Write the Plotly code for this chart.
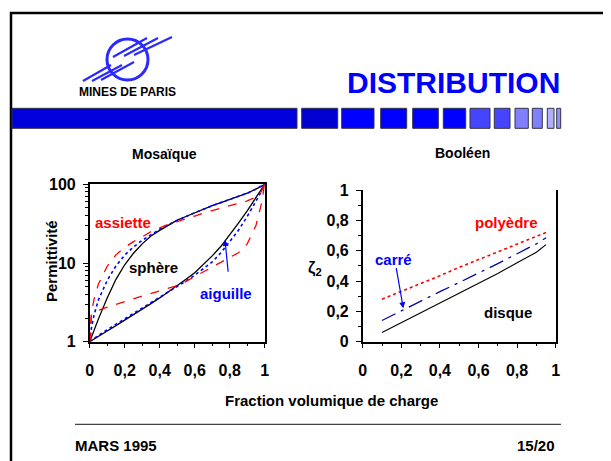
import plotly.graph_objects as go

W, H = 611, 461
# the page body adds an 8px offset; positions below are given in window pixels
OX, OY = 8, 8
FONT = "Liberation Sans, Arial, Helvetica, sans-serif"

# ---------------- data: Mosaïque (permittivity, log scale) ----------------
frac_mosaic = [0, 0.01, 0.025, 0.05, 0.1, 0.15, 0.2, 0.25, 0.3, 0.35, 0.4, 0.45,
               0.5, 0.55, 0.6, 0.65, 0.7, 0.75, 0.8, 0.85, 0.9, 0.95, 0.98, 1.0]
sphere_upper = [1, 1.13, 1.4, 1.95, 3.6, 6.2, 9.5, 13.3, 17.5, 22, 26, 30.5,
                35, 39, 43.5, 48.5, 53.5, 58.5, 64, 70, 77, 87, 94, 100]
aiguille_upper = [1, 1.5, 2.2, 3.4, 6.0, 9.2, 12.6, 16, 19.4, 23, 26.8, 30.8,
                  35, 39, 43.5, 48.5, 53.5, 58.5, 64, 70, 77, 87, 94, 100]
assiette_upper = [1, 2.3, 3.5, 5.4, 9.1, 12.7, 15.8, 18.7, 21.5, 25, 28, 31,
                  33.5, 36, 39.5, 43, 46.5, 50, 53.5, 57, 61.5, 69, 80, 100]
sphere_lower = [1, 1.03, 1.08, 1.17, 1.37, 1.6, 1.87, 2.2, 2.6, 3.05, 3.6, 4.3,
                5.1, 6.2, 7.5, 9.6, 12.3, 16.3, 22.5, 32, 46, 68, 85, 100]
aiguille_lower = [1, 1.04, 1.1, 1.2, 1.42, 1.66, 1.95, 2.28, 2.68, 3.12, 3.65, 4.3,
                  5.05, 5.9, 7.0, 8.4, 10.3, 13.5, 18.5, 26, 39, 60, 80, 100]
assiette_lower = [1, 2.2, 2.35, 2.5, 2.75, 3.0, 3.25, 3.5, 3.8, 4.1, 4.45, 4.8,
                  5.15, 5.85, 6.7, 7.7, 8.9, 10.2, 11.6, 13.5, 17.5, 30, 55, 100]

# ---------------- data: Booléen (zeta_2) ----------------
frac_bool = [0.1, 0.2, 0.3, 0.4, 0.5, 0.6, 0.7, 0.8, 0.9, 0.95]
polyedre = [0.28, 0.33, 0.385, 0.435, 0.49, 0.54, 0.59, 0.64, 0.69, 0.72]
carre = [0.14, 0.205, 0.27, 0.33, 0.39, 0.45, 0.515, 0.58, 0.645, 0.685]
disque = [0.06, 0.125, 0.185, 0.25, 0.315, 0.38, 0.45, 0.52, 0.59, 0.64]

# ---------------- tick labels ----------------
frac_tickvals = [0, 0.2, 0.4, 0.6, 0.8, 1]
frac_ticktext = ["0", "0,2", "0,4", "0,6", "0,8", "1"]
perm_tickvals = [1, 10, 100]
perm_ticktext = ["1", "10", "100"]
perm_minor = [2, 3, 4, 5, 6, 7, 8, 9, 20, 30, 40, 50, 60, 70, 80, 90]
zeta_tickvals = [0, 0.2, 0.4, 0.6, 0.8, 1]
zeta_ticktext = ["0", "0,2", "0,4", "0,6", "0,8", "1"]


def px(x):
    return (x - OX) / W


def py(y):
    return 1 - (y - OY) / H


fig = go.Figure()

RED, BLUE, BLACK, NAVY = "#ff0000", "#0000ff", "#000000", "#0000b0"

# left plot traces
fig.add_trace(go.Scatter(x=frac_mosaic, y=sphere_upper, mode="lines",
                         line=dict(color=BLACK, width=1.3), xaxis="x", yaxis="y"))
fig.add_trace(go.Scatter(x=frac_mosaic, y=sphere_lower, mode="lines",
                         line=dict(color=BLACK, width=1.3), xaxis="x", yaxis="y"))
fig.add_trace(go.Scatter(x=frac_mosaic, y=aiguille_upper, mode="lines",
                         line=dict(color=BLUE, width=1.6, dash="dot"), xaxis="x", yaxis="y"))
fig.add_trace(go.Scatter(x=frac_mosaic, y=aiguille_lower, mode="lines",
                         line=dict(color=BLUE, width=1.6, dash="dot"), xaxis="x", yaxis="y"))
fig.add_trace(go.Scatter(x=frac_mosaic, y=assiette_upper, mode="lines",
                         line=dict(color=RED, width=1.3, dash="dash"), xaxis="x", yaxis="y"))
fig.add_trace(go.Scatter(x=frac_mosaic, y=assiette_lower, mode="lines",
                         line=dict(color=RED, width=1.3, dash="dash"), xaxis="x", yaxis="y"))

# right plot traces
fig.add_trace(go.Scatter(x=frac_bool, y=polyedre, mode="lines",
                         line=dict(color=RED, width=1.6, dash="dot"), xaxis="x2", yaxis="y2"))
fig.add_trace(go.Scatter(x=frac_bool, y=carre, mode="lines",
                         line=dict(color=NAVY, width=1.3, dash="longdashdot"), xaxis="x2", yaxis="y2"))
fig.add_trace(go.Scatter(x=frac_bool, y=disque, mode="lines",
                         line=dict(color=BLACK, width=1.1), xaxis="x2", yaxis="y2"))

tickfont = dict(family=FONT, size=16, color="black", weight="bold")
axis_common = dict(showline=True, linecolor="black", linewidth=1.5, showgrid=False,
                   zeroline=False, ticks="outside", ticklen=5, tickwidth=1.3,
                   tickcolor="black", tickfont=tickfont, automargin=False)

fig.update_layout(
    width=W, height=H,
    margin=dict(l=0, r=0, t=0, b=0, pad=0, autoexpand=False),
    paper_bgcolor="white", plot_bgcolor="white",
    showlegend=False,
    font=dict(family=FONT, color="black"),
    xaxis=dict(domain=[px(89.7), px(264.7)], range=[0, 1], mirror=True,
               tickvals=frac_tickvals, ticktext=frac_ticktext, ticklabelstandoff=8,
               minor=dict(ticks="outside", dtick=0.1, ticklen=3, tickwidth=1, tickcolor="black"),
               anchor="y", **axis_common),
    yaxis=dict(domain=[py(341.7), py(184.3)], type="log", range=[0, 2], mirror=True,
               tickvals=perm_tickvals, ticktext=perm_ticktext, ticklabelstandoff=4,
               minor=dict(ticks="outside", tickmode="array", tickvals=perm_minor,
                          ticklen=3, tickwidth=1, tickcolor="black"),
               anchor="x", **axis_common),
    xaxis2=dict(domain=[px(362.7), px(555.7)], range=[0, 1], mirror=False,
                tickvals=frac_tickvals, ticktext=frac_ticktext, ticklabelstandoff=8,
                minor=dict(ticks="outside", dtick=0.1, ticklen=3, tickwidth=1, tickcolor="black"),
                anchor="y2", **axis_common),
    yaxis2=dict(domain=[py(341.7), py(190)], range=[0, 1], mirror=True,
                tickvals=zeta_tickvals, ticktext=zeta_ticktext, ticklabelstandoff=4,
                minor=dict(ticks="outside", dtick=0.1, ticklen=3, tickwidth=1, tickcolor="black"),
                anchor="x2", **axis_common),
)

shapes = []
# slide frame (extends beyond the visible window on the right and bottom)
shapes.append(dict(type="path", xref="paper", yref="paper",
                   path=f"M {px(11)},{py(480)} L {px(11)},{py(13)} L {px(630)},{py(13)}",
                   line=dict(color="black", width=2.5)))
# blue banner bar and squares
banner = [
    (12, 297, "#0000dd"), (301.7, 337.7, "#0000d0"), (341.7, 374, "#0000ff"),
    (380.7, 406.7, "#0000ff"), (412.7, 438.3, "#0000ff"), (443.3, 465.7, "#0000ff"),
    (470, 490, "#4545ff"), (494.3, 510, "#4545ff"), (515, 528.3, "#8080ff"),
    (532.3, 542.3, "#8080ff"), (547.3, 554, "#b0b0ff"), (556.7, 560.7, "#9090ff"),
]
for x0, x1, c in banner:
    shapes.append(dict(type="rect", xref="paper", yref="paper",
                       x0=px(x0), x1=px(x1), y0=py(128.3), y1=py(108.3),
                       fillcolor=c, line=dict(color="#333344", width=1)))
# logo (circle with streaks)
LOGO = "#2a2aff"
shapes.append(dict(type="circle", xref="paper", yref="paper",
                   x0=px(107), x1=px(148), y0=py(80), y1=py(39),
                   line=dict(color=LOGO, width=3)))
for (a, b, c, d) in [(113, 57, 147, 38), (124, 56, 158, 38), (134, 55, 172, 37),
                     (83, 81, 111, 65), (92, 81, 122, 65), (101, 80, 134, 62)]:
    shapes.append(dict(type="line", xref="paper", yref="paper",
                       x0=px(a), y0=py(b), x1=px(c), y1=py(d),
                       line=dict(color=LOGO, width=2.2)))
# footer separator
shapes.append(dict(type="line", xref="paper", yref="paper",
                   x0=px(75), x1=px(561), y0=py(424.3), y1=py(424.3),
                   line=dict(color="#444444", width=1.2)))
fig.update_layout(shapes=shapes)


def txt(x, y, s, size, color="black", xanchor="center", angle=0):
    return dict(x=px(x), y=py(y), xref="paper", yref="paper", text=s, showarrow=False,
                xanchor=xanchor, yanchor="middle", textangle=angle,
                font=dict(family=FONT, size=size, color=color, weight="bold"))


ann = [
    txt(127, 92, "MINES DE PARIS", 12),
    txt(562, 82, "DISTRIBUTION", 30, "#0000ff", xanchor="right"),
    txt(164, 154, "Mosaïque", 14),
    txt(462, 153, "Booléen", 14),
    txt(51, 261, "Permittivité", 15, angle=-90),
    txt(315, 268, "ζ<sub>2</sub>", 16),
    txt(123.3, 223, "assiette", 15, RED),
    txt(153.7, 267, "sphère", 15, BLACK),
    txt(226, 293, "aiguille", 15, BLUE),
    txt(506.3, 222, "polyèdre", 15, RED),
    txt(393.3, 260, "carré", 15, BLUE),
    txt(507.5, 312, "disque", 15, BLACK),
    txt(331, 400, "Fraction volumique de charge", 15),
    txt(73, 445, "MARS 1995", 15, xanchor="left"),
    txt(557, 445, "15/20", 15, xanchor="right"),
    # arrows
    dict(x=px(225), y=py(240), xref="paper", yref="paper", ax=3.3, ay=33.3,
         showarrow=True, arrowhead=2, arrowsize=1, arrowwidth=1.2, arrowcolor=BLUE, text=""),
    dict(x=px(403.3), y=py(308.3), xref="paper", yref="paper", ax=-7.3, ay=-41.6,
         showarrow=True, arrowhead=2, arrowsize=1, arrowwidth=1.2, arrowcolor=BLUE, text=""),
]
fig.update_layout(annotations=ann)

fig.write_html("out.html")
